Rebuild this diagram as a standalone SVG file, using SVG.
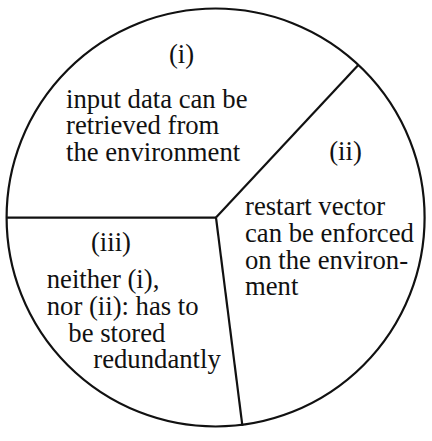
<svg xmlns="http://www.w3.org/2000/svg" width="432" height="441" viewBox="0 0 432 441">
<style>
.ln{fill:none;stroke:#111;stroke-width:2.2;stroke-linecap:butt}
text{font-family:"Liberation Serif","Times New Roman",serif;font-size:26.7px;fill:#111}
.c{text-anchor:middle}
</style>
<rect width="432" height="441" fill="#fff"/>
<g id="outline">
<circle class="ln" cx="215.6" cy="217.5" r="209"/>
</g>
<g id="connectors">
<line class="ln" x1="216" y1="217.6" x2="358.3" y2="65"/>
<line class="ln" x1="216" y1="217.6" x2="6.6" y2="217.6"/>
<line class="ln" x1="216" y1="217.6" x2="242.4" y2="425.8"/>
</g>
<g id="region-i">
<text class="c" x="181.5" y="63">(i)</text>
<text x="66" y="107.5">input data can be</text>
<text x="66" y="134.2">retrieved from</text>
<text x="66" y="160.9">the environment</text>
</g>
<g id="region-ii">
<text class="c" x="345.5" y="160">(ii)</text>
<text x="245" y="215">restart vector</text>
<text x="245" y="241.8">can be enforced</text>
<text x="245" y="268.6">on the environ-</text>
<text x="245" y="295.4">ment</text>
</g>
<g id="region-iii">
<text class="c" x="111" y="250.8">(iii)</text>
<text x="46.7" y="287.8">neither (i),</text>
<text x="46.7" y="314.8">nor (ii): has to</text>
<text x="68.3" y="341.6">be stored</text>
<text x="93.3" y="368.3">redundantly</text>
</g>
</svg>
